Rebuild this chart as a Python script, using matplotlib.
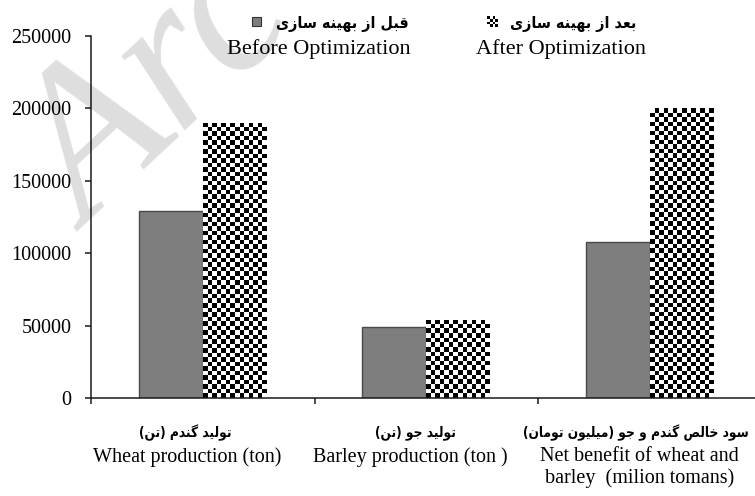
import numpy as np
import matplotlib
matplotlib.use("Agg")
import matplotlib.pyplot as plt
from matplotlib.patches import Rectangle
from matplotlib.transforms import blended_transform_factory

# ---------------- data ----------------
categories_fa = ["تولید گندم (تن)", "تولید جو (تن)", "سود خالص گندم و جو (میلیون تومان)"]
categories_en = ["Wheat production (ton)", "Barley production (ton )",
                 "Net benefit of wheat and\nbarley  (milion tomans)"]
before = [129000, 49000, 108000]
after = [190000, 54000, 200000]
legend_fa = ["قبل از بهینه سازی", "بعد از بهینه سازی"]
legend_en = ["Before Optimization", "After Optimization"]
yticks = [0, 50000, 100000, 150000, 200000, 250000]

# ---------------- minimal Persian shaping (presentation forms + visual order) ----------------
FORMS = {
    "\u0627": ("\uFE8D", "\uFE8E", None, None),
    "\u0628": ("\uFE8F", "\uFE90", "\uFE91", "\uFE92"),
    "\u062A": ("\uFE95", "\uFE96", "\uFE97", "\uFE98"),
    "\u062C": ("\uFE9D", "\uFE9E", "\uFE9F", "\uFEA0"),
    "\u062E": ("\uFEA5", "\uFEA6", "\uFEA7", "\uFEA8"),
    "\u062F": ("\uFEA9", "\uFEAA", None, None),
    "\u0630": ("\uFEAB", "\uFEAC", None, None),
    "\u0631": ("\uFEAD", "\uFEAE", None, None),
    "\u0632": ("\uFEAF", "\uFEB0", None, None),
    "\u0633": ("\uFEB1", "\uFEB2", "\uFEB3", "\uFEB4"),
    "\u0635": ("\uFEB9", "\uFEBA", "\uFEBB", "\uFEBC"),
    "\u0639": ("\uFEC9", "\uFECA", "\uFECB", "\uFECC"),
    "\u0642": ("\uFED5", "\uFED6", "\uFED7", "\uFED8"),
    "\u0644": ("\uFEDD", "\uFEDE", "\uFEDF", "\uFEE0"),
    "\u0645": ("\uFEE1", "\uFEE2", "\uFEE3", "\uFEE4"),
    "\u0646": ("\uFEE5", "\uFEE6", "\uFEE7", "\uFEE8"),
    "\u0647": ("\uFEE9", "\uFEEA", "\uFEEB", "\uFEEC"),
    "\u0648": ("\uFEED", "\uFEEE", None, None),
    "\u064A": ("\uFEF1", "\uFEF2", "\uFEF3", "\uFEF4"),
    "\u06CC": ("\uFBFC", "\uFBFD", "\uFBFE", "\uFBFF"),
    "\u06AF": ("\uFB92", "\uFB93", "\uFB94", "\uFB95"),
    "\u06A9": ("\uFB8E", "\uFB8F", "\uFB90", "\uFB91"),
}
MIRROR = {"(": ")", ")": "("}


def shape_fa(s):
    out = []
    for i, c in enumerate(s):
        if c not in FORMS:
            out.append(c)
            continue
        prev = s[i - 1] if i > 0 else ""
        nxt = s[i + 1] if i + 1 < len(s) else ""
        prev_j = prev in FORMS and FORMS[prev][2] is not None
        next_j = nxt in FORMS
        iso, fin, ini, med = FORMS[c]
        dual = ini is not None
        if prev_j and next_j and dual:
            out.append(med)
        elif prev_j:
            out.append(fin)
        elif next_j and dual:
            out.append(ini)
        else:
            out.append(iso)
    return "".join(MIRROR.get(ch, ch) for ch in reversed(out))


# ---------------- figure ----------------
W, H = 755, 496
fig = plt.figure(figsize=(W / 100, H / 100), dpi=100)
fig.patch.set_facecolor("white")


def px(x, y):
    return x / W, 1 - y / H


ax = fig.add_axes([91 / W, 1 - 398 / H, 670.5 / W, 362 / H])
ax.set_xlim(-0.5, len(before) - 0.5)
ax.set_ylim(0, 250000)

serif = "Liberation Serif"
fa_font = "DejaVu Sans"

# watermark
fig.text(*px(88, 232), "Arc", fontsize=152, family=serif, style="italic",
         color="#dedede", rotation=43, rotation_mode="anchor", ha="left", va="baseline",
         zorder=-5)
ax.patch.set_alpha(0)

x = np.arange(len(before))
bw = 0.286
gray_bars = ax.bar(x - bw / 2, before, width=bw, color="#7e7e7e", edgecolor="#4a4a4a",
                   linewidth=1.0, zorder=3)
chk_bars = ax.bar(x + bw / 2, after, width=bw, color="white", edgecolor="none",
                  linewidth=0, zorder=3)

# checkerboard fill for "after" bars
cell = 4.5
for b in chk_bars:
    x0, w, h = b.get_x(), b.get_width(), b.get_height()
    p0 = ax.transData.transform((x0, 0))
    p1 = ax.transData.transform((x0 + w, h))
    nx = max(1, int(round((p1[0] - p0[0]) / cell)))
    ny = max(1, int(round((p1[1] - p0[1]) / cell)))
    yy, xx = np.mgrid[0:ny, 0:nx]
    board = ((xx + yy) % 2).astype(float)
    im = ax.imshow(board, cmap="gray", vmin=0, vmax=1, extent=(x0, x0 + w, 0, h),
                   origin="lower", interpolation="nearest", aspect="auto", zorder=4)
    im.set_clip_path(b)

# spines and ticks
for s in ["top", "right"]:
    ax.spines[s].set_visible(False)
for s in ["left", "bottom"]:
    ax.spines[s].set_linewidth(1.1)
    ax.spines[s].set_color("#1a1a1a")
    ax.spines[s].set_zorder(6)

ax.set_yticks(yticks)
ax.set_yticklabels([str(v) for v in yticks], family=serif, fontsize=14.5)
ax.tick_params(axis="y", direction="out", length=4, width=1.1, pad=10, color="#1a1a1a")
ax.set_xticks(np.arange(len(before) + 1) - 0.5)
ax.set_xticklabels([])
ax.tick_params(axis="x", direction="out", length=4.5, width=1.1, color="#1a1a1a")

# category labels
tr = blended_transform_factory(ax.transData, fig.transFigure)
fa_shift = [-0.08, -0.05, -0.06]
en_shift = [-0.07, -0.07, -0.045]
for i in range(len(before)):
    fig.text(x[i] + fa_shift[i], 1 - 433 / H, shape_fa(categories_fa[i]), transform=tr,
             ha="center", va="center", family=fa_font, stretch="condensed",
             fontsize=9.8, fontweight="bold")
    fig.text(x[i] + en_shift[i], 1 - 447 / H, categories_en[i], transform=tr, ha="center",
             va="top", family=serif, fontsize=14.5, linespacing=1.17)

# legend
marks = [("#7e7e7e", 252, 17), (None, 487, 16)]
fa_centers = [342, 573]
en_centers = [319, 561]
for k in range(2):
    fig.text(*px(fa_centers[k], 24), shape_fa(legend_fa[k]), ha="center", va="center",
             family=fa_font, stretch="condensed", fontsize=11.5, fontweight="bold")
    fig.text(*px(en_centers[k], 49), legend_en[k], ha="center", va="center",
             family=serif, fontsize=16)
    col, mx, my = marks[k]
    if col is not None:
        fig.patches.append(Rectangle(px(mx, my + 9), 9 / W, 9 / H, transform=fig.transFigure,
                                     facecolor=col, edgecolor="#333333", linewidth=0.8))
    else:
        n = 4
        for r in range(n):
            for c in range(n):
                if (r + c) % 2 == 0:
                    fig.patches.append(Rectangle(px(mx + c * 2.75, my + (r + 1) * 2.75),
                                                 2.75 / W, 2.75 / H,
                                                 transform=fig.transFigure,
                                                 facecolor="black", edgecolor="none"))

fig.savefig("out.png", dpi=100, facecolor="white")
